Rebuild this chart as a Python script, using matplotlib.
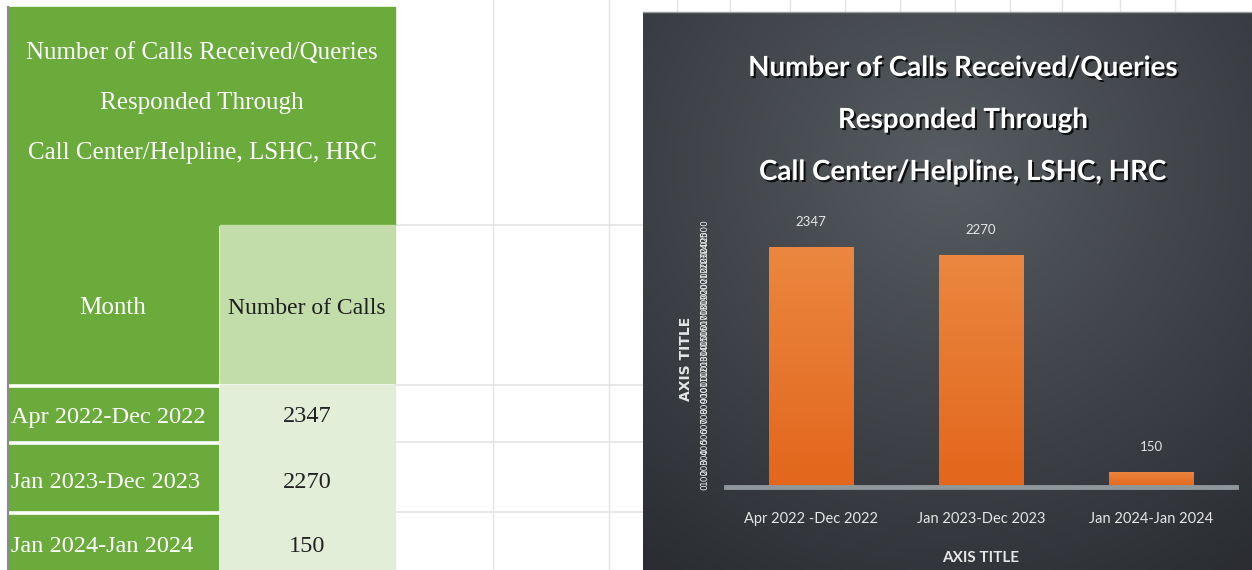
import matplotlib
matplotlib.use("Agg")
import matplotlib.pyplot as plt
import matplotlib.patheffects as pe
import numpy as np
from matplotlib.patches import Rectangle

# ── data ──────────────────────────────────────────────────────────────────────
periods = ["Apr 2022-Dec 2022", "Jan 2023-Dec 2023", "Jan 2024-Jan 2024"]
chart_labels = ["Apr 2022 -Dec 2022", "Jan 2023-Dec 2023", "Jan 2024-Jan 2024"]
calls = [2347, 2270, 150]
title_lines = ["Number of Calls Received/Queries", "Responded Through",
               "Call Center/Helpline, LSHC, HRC"]
y_ticks = list(range(0, 2600, 100))

W, H = 1252, 570
fig = plt.figure(figsize=(W / 100, H / 100), dpi=100)
fig.patch.set_facecolor("white")

# full-figure canvas in pixel coordinates (spreadsheet + chart frame)
bg = fig.add_axes([0, 0, 1, 1])
bg.axis("off")

GREEN = "#6aab3c"
LIGHT = "#c2dcaa"
PALE = "#e3eed9"
GRID = "#e4e4e4"

# ── spreadsheet grid lines in the blank area ─────────────────────────────────
for y in [225, 385, 442, 512]:
    bg.plot([395, 643], [y, y], color=GRID, lw=1.2, zorder=0)
for x in [493, 609]:
    bg.plot([x, x], [0, H], color=GRID, lw=1.0, zorder=0)
for x in [677, 730, 790, 845, 900, 955, 1010, 1062, 1120, 1175]:
    bg.plot([x, x], [0, 12], color=GRID, lw=1.0, zorder=0)

# ── table ─────────────────────────────────────────────────────────────────────
bg.add_patch(Rectangle((8, 7), 387, 218, color=GREEN, zorder=1))
bg.add_patch(Rectangle((8, 225), 210, 158, color=GREEN, zorder=1))
bg.add_patch(Rectangle((220, 225), 175, 158, color=LIGHT, zorder=1))
row_edges = [(388, 440), (445, 510), (515, 580)]
text_y = [417, 482, 547]
for (y0, y1) in row_edges:
    bg.add_patch(Rectangle((8, y0), 210, y1 - y0, color=GREEN, zorder=1))
bg.add_patch(Rectangle((220, 385), 175, 200, color=PALE, zorder=1))
bg.plot([8, 8], [7, H], color="#8a8a8a", lw=1.5, zorder=2)

serif = "Liberation Serif"
for i, line in enumerate(title_lines):
    bg.text(202, 53 + i * 50, line, ha="center", va="center", color="white",
            fontsize=18, family=serif, zorder=3)
bg.text(113, 308, "Month", ha="center", va="center", color="white",
        fontsize=18, family=serif, zorder=3)
bg.text(307, 308, "Number of Calls", ha="center", va="center", color="#1e1e1e",
        fontsize=17, family=serif, zorder=3)
for yc, p, c in zip(text_y, periods, calls):
    bg.text(11, yc, p, ha="left", va="center", color="white",
            fontsize=17.5, family=serif, zorder=3)
    bg.text(307, yc, str(c), ha="center", va="center", color="#222222",
            fontsize=17.5, family=serif, zorder=3)

# ── dark chart background with a soft radial gradient ─────────────────────────
cx0, cy0, cx1, cy1 = 643, 12, W, H
gx, gy = np.meshgrid(np.linspace(-1, 1, 300), np.linspace(-1, 1, 300))
r = np.sqrt((gx * 0.95) ** 2 + ((gy + 0.45) * 0.9) ** 2)
shade = np.clip(1 - r / 1.55, 0, 1)
c_dark = np.array([0.17, 0.18, 0.20])
c_light = np.array([0.34, 0.36, 0.38])
img = c_dark + (c_light - c_dark) * shade[..., None]
bg.imshow(img, extent=(cx0, cx1, cy1, cy0), aspect="auto", zorder=1)
bg.plot([cx0, cx1], [cy0, cy0], color="#9a9a9a", lw=1.0, zorder=2)
bg.set_xlim(0, W)
bg.set_ylim(H, 0)

shadow = [pe.withSimplePatchShadow(offset=(1.5, -1.5), shadow_rgbFace="black", alpha=0.8)]
for i, line in enumerate(title_lines):
    bg.text(963, 68 + i * 52, line, ha="center", va="center", color="white",
            fontsize=20, family="Lato", fontweight="bold", zorder=3,
            path_effects=shadow)

# ── bar chart ─────────────────────────────────────────────────────────────────
ax = fig.add_axes([726 / W, (H - 487) / H, (1236 - 726) / W, (487 - 231) / H])
ax.patch.set_alpha(0)
x = np.arange(len(calls))
bars = ax.bar(x, calls, width=0.5, color="#e8701f", zorder=2)

# light-to-dark vertical gradient on each bar
grad = np.linspace(0, 1, 100)[:, None]
top_c = np.array([0.92, 0.53, 0.25])
bot_c = np.array([0.89, 0.40, 0.11])
bar_img = top_c + (bot_c - top_c) * grad[..., None]
for b in bars:
    im = ax.imshow(bar_img, extent=(b.get_x(), b.get_x() + b.get_width(), 0, b.get_height()),
                   aspect="auto", zorder=3)
    im.set_clip_path(b)

for xi, v in zip(x, calls):
    ax.text(xi, v + 180, str(v), ha="center", va="bottom", color="#e4e4e4",
            fontsize=9.5, family="Lato")
ax.set_xlim(-0.5, 2.5)
ax.set_ylim(0, 2500)
for s in ["top", "right", "left"]:
    ax.spines[s].set_visible(False)
ax.spines["bottom"].set_color("#8f979b")
ax.spines["bottom"].set_linewidth(3.5)
ax.spines["bottom"].set_zorder(4)
ax.set_xticks(x)
ax.set_xticklabels(chart_labels, color="#e6e6e6", fontsize=10.5, family="Lato")
ax.tick_params(axis="x", length=0, pad=18)
ax.set_yticks(y_ticks)
ax.set_yticklabels([str(t) for t in y_ticks], rotation=90, fontsize=6.5,
                   color="#eeeeee", va="center")
ax.tick_params(axis="y", length=0, pad=12)
ax.set_xlabel("AXIS TITLE", color="#e6e6e6", fontsize=11, fontweight="bold",
              family="Lato", labelpad=18)
ax.set_ylabel("AXIS TITLE", color="#e6e6e6", fontsize=10, fontweight="bold",
              labelpad=5)

fig.savefig("out.png", dpi=100)
